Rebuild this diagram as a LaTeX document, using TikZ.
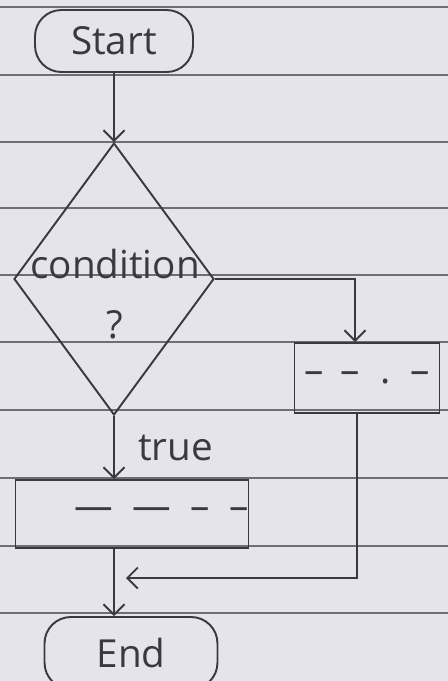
\documentclass[tikz,border=0pt]{standalone}
\usepackage{fontspec}
\setmainfont{Open Sans}
\usetikzlibrary{arrows.meta,shapes.geometric}
\definecolor{paper}{HTML}{E4E4EA}
\definecolor{ink}{HTML}{3A3A3E}
\definecolor{ruling}{HTML}{6E6E74}

\begin{document}
\begin{tikzpicture}[x=0.02cm, y=-0.02cm, >={Straight Barb[length=6pt,width=12pt]},
    every node/.style={font=\fontsize{22}{26}\selectfont, text=ink},
    term/.style={draw=ink, line width=1.1pt, rounded corners=15pt, inner sep=0pt},
    decision/.style={draw=ink, line width=1.1pt, diamond, inner sep=0pt, minimum width=4cm, minimum height=5.44cm},
    procbox/.style={draw=ink, line width=1.1pt, inner sep=0pt},
    flow/.style={draw=ink, line width=1.1pt, ->}]
    \fill[paper] (0,0) rectangle (448,681);
    \useasboundingbox (0,0) rectangle (448,681);
    % ruled lines of the notebook page
    \foreach \y in {7,75,142,208,275,342,410,478,546,613}
        \draw[ruling, line width=0.9pt] (0,\y) -- (448,\y);

    \node[term, minimum width=3.16cm, minimum height=1.24cm] (start) at (114,41) {Start};
    \node[decision] (dec) at (114,279) {};
    \node (condtxt) at (115,264) {condition};
    \node (qmark) at (115,325) {?};
    \node[procbox, minimum width=2.9cm, minimum height=1.4cm] (box2) at (367,378) {-- \,-- \;. \,--};
    \node[procbox, text width=4.66cm, align=right, minimum height=1.36cm] (box1) at (132,514) {--- \,--- \,-- \,--};
    \node[term, minimum width=3.46cm, minimum height=1.44cm] (end) at (131,653) {End};
    \coordinate (join) at (126,578);

    \draw[flow] (start.south -| dec.north) -- (dec.north);
    \draw[flow] (dec.east) -| ([xshift=-0.24cm]box2.north);
    \draw[flow] (dec.south) -- (dec.south |- box1.north) node[midway, right=0.35cm] {true};
    \draw[flow] ([xshift=-0.2cm]box2.south) |- (join);
    \draw[flow] (box1.south -| dec.south) -- (dec.south |- end.north);
\end{tikzpicture}
\end{document}
